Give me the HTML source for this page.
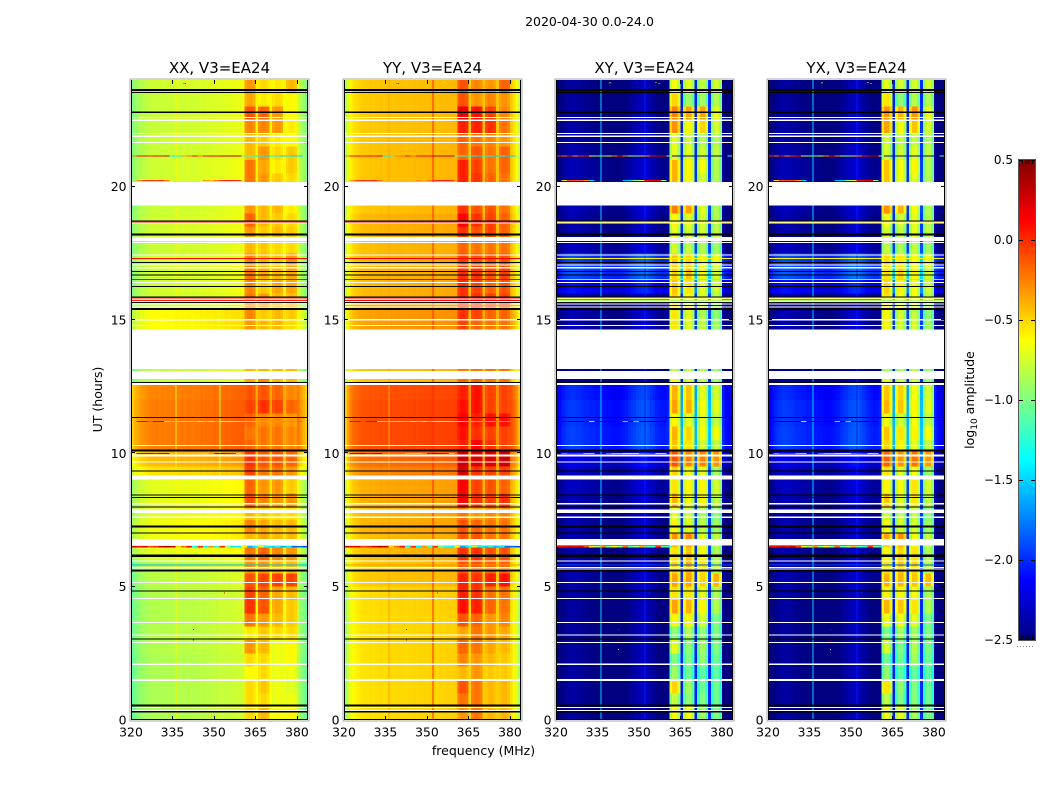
<!DOCTYPE html>
<html>
<head>
<meta charset="utf-8">
<title>2020-04-30 0.0-24.0</title>
<style>
html,body{margin:0;padding:0;background:#fff;}
svg{display:block;}
text{font-family:"DejaVu Sans","Liberation Sans",sans-serif;fill:#000;}
</style>
</head>
<body>
<svg id="chart" xmlns="http://www.w3.org/2000/svg" width="1050" height="800" viewBox="0 0 1050 800">
<rect x="0" y="0" width="1050" height="800" fill="#fff"/>
<text x="589.5" y="26" font-size="12.5" text-anchor="middle">2020-04-30 0.0-24.0</text>
<text x="0" y="0" font-size="12.5" text-anchor="middle" transform="translate(102,399.5) rotate(-90)">UT (hours)</text>
<text x="483.5" y="755" font-size="12.5" text-anchor="middle">frequency (MHz)</text>
<text x="0" y="0" font-size="12.5" text-anchor="middle" transform="translate(974,400) rotate(-90)">log<tspan font-size="9" dy="3">10</tspan><tspan dy="-3"> amplitude</tspan></text>
</svg>
<script>
// ---------- axis data ----------
const panelTitles = ['XX, V3=EA24','YY, V3=EA24','XY, V3=EA24','YX, V3=EA24'];
const panelNames = ['xx','yy','xy','yx'];
const xTicks = [320,335,350,365,380];
const yTicks = [0,5,10,15,20];
const colorbarTicks = [0.5,0,-0.5,-1,-1.5,-2,-2.5];
const colorbarLabels = ['0.5','0.0','\u22120.5','\u22121.0','\u22121.5','\u22122.0','\u22122.5'];
const freqStart = 320, freqStep = 1, channelCount = 64;
const vMin = -2.5, vMax = 0.5;

// time-row edges in hours
const timeEdges = [0,0.5,1,1.5,2,2.5,3,3.5,4,4.5,5,5.5,6,6.5,7,7.5,8,8.5,9,9.5,10.1,10.5,11,11.5,12,12.56,13,13.5,14,14.5,15,15.5,16,16.5,17,17.5,18,18.5,19,19.5,20,20.5,21,21.5,22,22.5,23,23.5,24];

// log10 amplitude of each frequency channel (non-band channels)
const xxChannels = [-1.08,-1,-.96,-.92,-.9,-.88,-.86,-.85,-.85,-.84,-.85,-.84,-.84,-.83,-.84,-.83,-.82,-.83,-.82,-.83,-.82,-.82,-.83,-.82,-.82,-.8,-.82,-.8,-.8,-.8,-.78,-.8,-.78,-.78,-.76,-.78,-.76,-.76,-.75,-.75,-.74,-.72,-.72,-.72,-.72,-.62,-.72,-.72,-.72,-.72,-.62,-.72,-.72,-.72,-.72,-.64,-.72,-.72,-.72,-.72,-.82,-.92,-1,-1.08];
const yyChannels = [-.85,-.72,-.62,-.56,-.54,-.52,-.5,-.49,-.49,-.48,-.49,-.48,-.48,-.47,-.48,-.47,-.46,-.47,-.47,-.46,-.46,-.46,-.47,-.46,-.46,-.45,-.46,-.45,-.45,-.45,-.45,-.44,-.44,-.46,-.45,-.45,-.44,-.44,-.44,-.44,-.43,-.45,-.45,-.45,-.45,-.48,-.45,-.45,-.45,-.45,-.46,-.45,-.45,-.45,-.45,-.46,-.45,-.45,-.45,-.45,-.48,-.56,-.66,-.8];
const xyChannels = [-2.5,-2.45,-2.38,-2.34,-2.32,-2.3,-2.3,-2.32,-2.32,-2.34,-2.36,-2.36,-2.38,-2.38,-2.4,-2.4,-2.42,-2.42,-2.44,-2.44,-2.46,-2.46,-2.46,-2.44,-2.42,-2.4,-2.36,-2.32,-2.3,-2.26,-2.24,-2.22,-2.2,-2.26,-2.3,-2.34,-2.38,-2.4,-2.42,-2.42,-2.38,-2,-2,-2,-2,-1.95,-2,-2,-2,-2,-1.95,-2,-2,-2,-2,-1.9,-2,-2,-2,-2,-2.36,-2.46,-2.5,-2.5];
const yxChannels = [-2.5,-2.45,-2.38,-2.34,-2.32,-2.3,-2.3,-2.32,-2.32,-2.34,-2.36,-2.36,-2.38,-2.38,-2.4,-2.4,-2.42,-2.42,-2.44,-2.44,-2.46,-2.46,-2.46,-2.44,-2.42,-2.4,-2.36,-2.32,-2.3,-2.26,-2.24,-2.22,-2.2,-2.26,-2.3,-2.34,-2.38,-2.4,-2.42,-2.42,-2.38,-2,-2,-2,-2,-1.95,-2,-2,-2,-2,-1.95,-2,-2,-2,-2,-1.9,-2,-2,-2,-2,-2.36,-2.46,-2.5,-2.5];

// per-time-row offset of the background level
const xxRowOffset = [-.02,-.02,-.02,-.02,-.02,0,0,0,0,0,.02,.02,.14,.18,.18,.14,.14,.14,.3,.42,.6,.6,.6,.6,.58,.03,.03,.03,.03,.22,.22,.08,.08,.08,.08,.06,.08,.08,.06,.06,.08,.08,.06,.06,.06,.06,.06,.08];
const yyRowOffset = [-.05,-.05,-.05,-.05,-.05,-.05,-.05,-.05,-.04,-.04,.02,.02,.05,.05,.08,.08,.1,.1,.2,.28,.38,.38,.38,.38,.36,.03,.03,.03,.03,.14,.14,.07,.07,.07,.07,.05,.07,.07,.03,.03,.03,.03,.03,.03,.02,.02,.02,.02];
const xyRowOffset = [-.1,-.1,-.1,-.1,-.1,-.1,-.1,-.1,-.1,-.08,-.05,-.05,-.05,-.05,-.05,-.05,-.02,0,.02,.14,.37,.37,.35,.35,.31,-.1,-.1,-.1,-.1,-.04,-.04,-.05,.22,.42,.4,0,-.05,-.06,-.02,-.02,-.04,-.04,-.07,-.07,-.08,-.08,-.1,-.1];
const yxRowOffset = [-.1,-.1,-.1,-.1,-.1,-.1,-.1,-.1,-.1,-.08,-.05,-.05,-.05,-.05,-.05,-.05,-.02,0,.02,.14,.37,.37,.35,.35,.31,-.1,-.1,-.1,-.1,-.04,-.04,-.05,.22,.44,.42,0,-.05,-.06,-.02,-.02,-.04,-.04,-.07,-.07,-.08,-.08,-.1,-.1];

// amplitude in the four receiver bands, one row per time row
const xxBandRows = [[-.4,-.3,-.5,-.5],[-.4,-.4,-.55,-.55],[-.4,-.35,-.55,-.6],[-.5,-.4,-.55,-.55],[-.4,-.4,-.55,-.5],[-.2,-.3,-.55,-.5],[-.45,-.35,-.4,-.4],[-.1,-.2,-.3,-.35],[.1,0,-.25,-.35],[.05,-.05,-.25,-.3],[0,.05,.05,.05],[-.2,-.2,-.3,-.3],[-.1,-.05,-.15,-.2],[-.3,-.25,-.3,-.3],[-.15,-.25,-.3,-.3],[-.3,-.35,-.4,-.4],[0,-.15,-.2,-.2],[-.05,-.2,-.2,-.35],[.05,-.1,-.1,-.2],[.1,0,0,-.05],[-.05,-.1,-.1,-.15],[-.1,-.1,-.1,-.15],[-.05,-.15,-.15,-.2],[.05,.1,.05,-.05],[0,0,-.05,-.15],[-.25,-.15,-.3,-.3],[-.3,-.3,-.3,-.3],[-.3,-.3,-.3,-.3],[-.3,-.3,-.3,-.3],[-.2,-.3,-.3,-.4],[-.15,-.35,-.3,-.35],[-.1,-.2,-.3,-.3],[-.15,-.35,-.25,-.25],[-.1,-.25,-.3,-.25],[-.15,-.3,-.35,-.2],[-.3,-.35,-.4,-.4],[-.2,-.35,-.3,-.35],[-.05,-.3,-.35,-.4],[-.2,-.3,-.3,-.45],[-.2,-.3,-.3,-.45],[-.1,-.2,-.35,-.4],[-.1,-.25,-.45,-.35],[-.3,-.2,-.4,-.35],[-.3,-.35,-.45,-.5],[-.15,-.15,-.2,-.45],[0,-.05,-.2,-.5],[-.25,-.45,-.4,-.5],[-.2,-.4,-.45,-.3]];
const yyBandRows = [[-.2,-.1,-.3,-.3],[-.1,-.1,-.3,-.3],[0,-.1,-.3,-.3],[-.3,-.2,-.35,-.35],[-.15,-.2,-.3,-.35],[-.05,-.1,-.25,-.3],[-.25,-.1,-.2,-.25],[0,-.05,-.2,-.15],[.2,.15,-.05,-.1],[.15,.1,-.1,-.1],[.15,.1,.15,.2],[0,0,-.05,-.05],[.1,.1,0,0],[0,0,-.1,-.1],[0,-.05,-.1,-.1],[-.1,-.2,-.15,-.15],[.25,.1,.05,.1],[.25,.05,0,-.05],[.35,.1,.05,.05],[.4,.35,.35,.4],[.15,.25,.1,.05],[.2,.1,.05,.05],[.25,.15,.2,.2],[.2,.2,.05,.05],[.15,.2,.05,.05],[-.05,-.05,-.1,-.1],[-.1,-.1,-.1,-.1],[-.1,-.1,-.1,-.1],[-.1,-.1,-.1,-.1],[.05,-.05,-.1,-.1],[.1,.05,-.05,-.05],[.1,.1,.05,.05],[.1,.05,-.05,0],[.1,.1,0,.05],[.05,0,0,0],[-.05,-.1,-.1,-.1],[.1,0,.05,-.05],[.25,.1,.05,-.05],[.1,0,0,-.1],[.1,0,0,-.1],[.15,.1,-.05,-.1],[.15,.05,-.1,-.05],[-.05,0,-.1,-.05],[-.05,-.1,-.15,-.2],[.15,.15,.1,-.1],[.3,.2,.05,-.15],[0,-.2,-.15,-.2],[0,-.15,-.2,-.05]];
const xyBandRows = [[-.65,-.65,-.9,-1],[-.8,-.95,-1,-1.05],[-.5,-.9,-1.05,-1.05],[-.9,-1.05,-1.1,-1.1],[-1,-1,-.95,-1.05],[-.7,-.95,-.9,-1],[-.95,-.85,-.95,-1],[-.6,-.6,-.75,-1],[-.35,-.4,-.6,-.85],[-.55,-.55,-.7,-.85],[-.35,-.35,-.5,-.4],[-.5,-.4,-.55,-.8],[-.55,-.45,-.6,-.85],[-.3,-.25,-.7,-.8],[-.6,-.7,-.8,-.9],[-.7,-.75,-.85,-.95],[-.4,-.65,-.6,-.8],[-.55,-.6,-.6,-.75],[-.5,-.65,-.7,-.9],[-.1,-.25,-.25,-.3],[-.45,-.55,-.75,-.8],[-.4,-.5,-.65,-.65],[-.6,-.7,-.7,-.8],[-.35,-.4,-.65,-.7],[-.4,-.45,-.7,-.75],[-.6,-.7,-.8,-.9],[-.8,-.8,-.85,-.9],[-.8,-.8,-.85,-.9],[-.8,-.8,-.85,-.9],[-.55,-.7,-.8,-.9],[-.55,-.7,-.85,-.95],[-.5,-.6,-.7,-.85],[-.45,-.55,-.7,-.75],[-.5,-.45,-.65,-.75],[-.45,-.5,-.7,-.7],[-.75,-.8,-.85,-.9],[-.7,-.75,-.75,-.8],[-.6,-.7,-.75,-.85],[-.25,-.35,-.7,-.85],[-.25,-.35,-.7,-.85],[-.4,-.6,-.75,-.85],[-.4,-.6,-.65,-.85],[-.7,-.7,-.75,-.8],[-.7,-.75,-.85,-.85],[-.3,-.6,-.5,-.75],[-.25,-.35,-.35,-.7],[-.5,-.9,-.9,-.85],[-.65,-.7,-.8,-.75]];
const yxBandRows = [[-.68,-.7,-.88,-1],[-.82,-1,-.98,-1.05],[-.55,-.95,-1,-1.05],[-.95,-1.1,-1.08,-1.1],[-1.05,-1.05,-.9,-1.05],[-.75,-1,-.85,-1],[-1,-.9,-.9,-1],[-.65,-.65,-.7,-1],[-.4,-.45,-.55,-.85],[-.6,-.6,-.65,-.85],[-.4,-.4,-.45,-.42],[-.55,-.45,-.5,-.8],[-.6,-.5,-.55,-.85],[-.35,-.3,-.65,-.8],[-.65,-.75,-.75,-.9],[-.75,-.8,-.8,-.95],[-.45,-.7,-.55,-.8],[-.6,-.65,-.55,-.75],[-.55,-.7,-.65,-.9],[-.15,-.3,-.2,-.32],[-.5,-.6,-.7,-.8],[-.45,-.55,-.6,-.65],[-.65,-.75,-.65,-.8],[-.4,-.45,-.6,-.7],[-.45,-.5,-.65,-.75],[-.65,-.75,-.75,-.9],[-.85,-.85,-.8,-.9],[-.85,-.85,-.8,-.9],[-.85,-.85,-.8,-.9],[-.6,-.75,-.75,-.9],[-.6,-.75,-.8,-.95],[-.55,-.65,-.65,-.85],[-.5,-.6,-.65,-.75],[-.55,-.5,-.6,-.75],[-.5,-.55,-.65,-.7],[-.8,-.85,-.8,-.9],[-.75,-.8,-.7,-.8],[-.65,-.75,-.7,-.85],[-.3,-.4,-.65,-.85],[-.3,-.4,-.65,-.85],[-.45,-.65,-.7,-.85],[-.45,-.65,-.6,-.85],[-.75,-.75,-.7,-.8],[-.75,-.8,-.8,-.85],[-.35,-.65,-.45,-.75],[-.3,-.4,-.3,-.7],[-.55,-.95,-.85,-.85],[-.7,-.75,-.75,-.75]];

// first channel of each band and relative level across its four channels
const bandFirstChannels = [41,46,51,56];
const xxBandShape = [-.15,-.11,-.11,-.15];
const yyBandShape = [-.15,-.11,-.11,-.15];
const xyBandShape = [-.2,0,0,-.2];
const yxBandShape = [-.2,0,0,-.2];

// channels between the bands follow a fraction of the background row level
const betweenBandChannels = [45,50,55];
const betweenBandScale = [.45,.45,1,1];

// narrow interference lines at fixed frequency: MHz and level in each panel
const spikeFreqs = [336,352];
const spikeXX = [-.6,-.72];
const spikeYY = [-.36,.0];
const spikeXY = [-1.5,-2.05];
const spikeYX = [-1.5,-2.05];

// isolated hot pixels: MHz, hour, level
const speckleFreqs = [342.4,342.4,353.7,353.7,342.4,339,339.3,339.6,356,357,338];
const speckleHours = [3.0,3.4,4.76,4.55,2.65,23.86,23.9,23.86,23.9,23.86,0.55];
const speckleLevels = [.3,.3,.2,-.4,-1.2,.2,-.6,.2,-.6,-.8,-.5];

// broadband interference rows; each value spans two channels, null means no excess
const rfiHours = [21.15,20.24,11.2,10.0,6.5];
const rfiRow2115 = [-.2,.1,.15,.05,.15,.1,.25,-1.4,-1.3,-.3,-.2,.1,-.2,.1,.15,.1,.3,.3,.3,.3,-1.2,-1.2,-1.4,-1.4,-1.5,-1.4,-1.4,-1.5,-1.4,-1.5,-1.5,-.9];
const rfiRow2020 = [null,-.3,-.05,0,-.05,0,-.2,null,null,null,null,null,null,-.3,-.4,-.2,0,.05,.05,0,null,null,null,null,null,null,null,null,null,null,null,null];
const rfiRow1120 = [null,.1,.15,-.1,.15,.2,-.5,-.4,-1.2,-1,-1.1,-1.3,-.6,-1.2,-.7,-.4,-.6,-.7,-.6,-.8,-1.1,-1.2,-1.3,-1.4,-1.4,-1.5,-1.4,-1.5,-1.5,-1.5,-1.6,null];
const rfiRow1000 = [null,.3,.3,.3,.1,.3,.3,null,null,null,null,-1.3,-1.2,-.5,-.3,.2,.3,.2,.1,-.9,null,null,null,null,null,null,null,null,null,null,null,null];
const rfiRow650 = [.3,.1,.2,-.1,0,.2,.4,.3,-.5,-.2,.1,-1.3,0,-1.4,-.3,-1.2,0,-1,-1.3,-1.4,-.6,-1.6,-1.4,-.8,-1.3,-1.5,-1.3,-1.6,-1.4,-1.8,-1.8,-1.9];
const rfiRows = [rfiRow2115,rfiRow2020,rfiRow1120,rfiRow1000,rfiRow650];

// the same rows as seen in the cross-hand panels
const crossRow2115 = [0,-.2,.1,-.3,0,.1,-.7,-.9,-1,-.7,-.3,.1,-.3,-.8,-.9,-.5,-.3,.1,.3,.3,-.9,-2.5,-2.5,-2.5,-2.5,-2.5,-2.5,-2.5,-2.5,-2.5,null,-1.2];
const crossRow2020 = [null,-.5,-.1,-.1,-.1,-.3,-1.5,null,null,null,null,null,-1.6,-1.5,-.9,-.7,.1,.2,.2,-1,null,null,null,null,null,null,null,null,null,null,null,null];
const crossRow1120 = [null,-2.45,-2.45,-2.45,-2.45,-2.45,-1,-2.45,-2.45,-2.45,-2.45,-2.45,-1.4,-2.45,-1.4,-2.45,-2.45,-2.45,-2.45,-2.45,null,null,null,null,null,null,null,null,null,null,null,null];
const crossRow1000 = [null,-.2,.1,.1,.1,-.4,-1.2,null,null,-1.7,-1.4,-1.4,-.6,-.6,-.7,-.1,0,.1,-.8,-1,null,null,null,null,null,null,null,null,null,null,null,null];
const crossRow650 = [.1,.1,.2,.1,.2,-.1,-.6,-.9,-.3,-1,-.6,-1,-.2,-1.1,-.9,-.4,-1.1,-1.2,0,-1.1,-1.2,null,null,null,null,null,null,null,null,null,null,null];
const crossRows = [crossRow2115,crossRow2020,crossRow1120,crossRow1000,crossRow650];

// full-width rows at a single level per panel: hour, XX, YY, XY, YX
const hotHours = [15.82,15.74,16.52,17.3,18.67,5.82,15.55];
const hotXX = [.05,.05,.1,.1,.05,-1.6,-.75];
const hotYY = [.15,.15,.15,.15,.15,-.3,-.4];
const hotXY = [-.6,-.9,-.5,-.6,-.6,-1.9,-2.3];
const hotYX = [-.6,-.9,-.5,-.6,-.6,-1.9,-2.3];

// missing-data spans (white), in hours
const gapStarts = [.35,.45,1.46,2.07,2.89,3.16,3.64,4.54,5.14,5.63,5.69,5.95,6.55,7.58,7.77,8.09,9.01,9.66,9.89,10.28,12.56,12.79,13.16,14.78,14.99,15.46,15.58,15.68,15.76,16.38,16.94,17.04,17.41,17.88,17.96,18.61,19.29,21.64,21.87,21.97,22.47,22.57];
const gapEnds =   [.38,.48,1.54,2.11,2.93,3.2,3.68,4.58,5.18,5.67,5.73,5.99,6.78,7.63,7.9,8.13,9.16,9.69,9.96,10.32,12.63,13.09,14.65,14.82,15.03,15.5,15.62,15.72,15.8,16.42,16.98,17.08,17.45,17.92,18.12,18.65,20.18,21.68,21.91,22.01,22.51,22.61];

// flagged spans (black), in hours
const flagStarts = [.29,.5,3.01,4.81,5.56,6.12,7,7.21,7.96,8.33,8.41,9.31,10.06,11.33,12.64,15.37,15.64,15.85,16.24,16.66,16.8,17.14,18.16,18.7,22.77,23.51,23.59];
const flagEnds =   [.33,.58,3.05,4.85,5.64,6.2,7.04,7.29,8,8.37,8.45,9.35,10.14,11.37,12.68,15.45,15.68,15.89,16.28,16.7,16.84,17.18,18.24,18.74,22.81,23.55,23.66];

// ---------- layout ----------
const panelLeft = [131,344,556,768];
const panelWidth = 177, plotTop = 80, plotBottom = 720;
const barLeft = 1019, barWidth = 16, barTop = 160, barBottom = 640;

const panelChannels = [xxChannels,yyChannels,xyChannels,yxChannels];
const panelOffsets = [xxRowOffset,yyRowOffset,xyRowOffset,yxRowOffset];
const panelBands = [xxBandRows,yyBandRows,xyBandRows,yxBandRows];
const panelShapes = [xxBandShape,yyBandShape,xyBandShape,yxBandShape];
const panelSpikes = [spikeXX,spikeYY,spikeXY,spikeYX];
const panelHots = [hotXX,hotYY,hotXY,hotYX];
const panelRfi = [rfiRows,rfiRows,crossRows,crossRows];

const NS = 'http://www.w3.org/2000/svg';
const svg = document.getElementById('chart');

function xScale(p, mhz){ return panelLeft[p] + (mhz - freqStart) * panelWidth / (channelCount * freqStep); }
function yScale(h){ return plotBottom - h * (plotBottom - plotTop) / 24; }
function barScale(v){ return barBottom - (v - vMin) * (barBottom - barTop) / (vMax - vMin); }

function jet(v){
  let t = (v - vMin) / (vMax - vMin);
  t = Math.max(0, Math.min(1, t));
  const r = Math.max(0, Math.min(1, 1.5 - Math.abs(4 * t - 3)));
  const g = Math.max(0, Math.min(1, 1.5 - Math.abs(4 * t - 2)));
  const b = Math.max(0, Math.min(1, 1.5 - Math.abs(4 * t - 1)));
  return 'rgb(' + Math.round(r * 255) + ',' + Math.round(g * 255) + ',' + Math.round(b * 255) + ')';
}

function makeRect(parent, x, y, w, h, fill){
  const r = document.createElementNS(NS, 'rect');
  r.setAttribute('x', x.toFixed(2));
  r.setAttribute('y', y.toFixed(2));
  r.setAttribute('width', w.toFixed(2));
  r.setAttribute('height', h.toFixed(2));
  r.setAttribute('fill', fill);
  parent.appendChild(r);
  return r;
}

function makeLine(parent, x1, y1, x2, y2, stroke){
  const l = document.createElementNS(NS, 'line');
  l.setAttribute('x1', x1);
  l.setAttribute('y1', y1);
  l.setAttribute('x2', x2);
  l.setAttribute('y2', y2);
  l.setAttribute('stroke', stroke);
  l.setAttribute('stroke-width', 1);
  parent.appendChild(l);
  return l;
}

function makeText(parent, x, y, anchor, size, content){
  const t = document.createElementNS(NS, 'text');
  t.setAttribute('x', x);
  t.setAttribute('y', y);
  t.setAttribute('text-anchor', anchor);
  t.setAttribute('font-size', size);
  t.textContent = content;
  parent.appendChild(t);
  return t;
}

function bandIndex(ch){
  for (let b = 0; b < bandFirstChannels.length; b++) {
    const k = ch - bandFirstChannels[b];
    if (k >= 0 && k < 4) return [b, k];
  }
  return null;
}

function hourSpanRect(p, parent, start, end, fill){
  const yTop = yScale(end), yBot = yScale(start);
  return makeRect(parent, panelLeft[p], yTop, panelWidth, Math.max(1, yBot - yTop), fill);
}

for (let p = 0; p < 4; p++) {
  const g = document.createElementNS(NS, 'g');
  
  
  g.setAttribute('shape-rendering', 'crispEdges');
  svg.appendChild(g);

  // heatmap cells
  for (let row = 0; row < timeEdges.length - 1; row++) {
    const yTop = yScale(timeEdges[row + 1]);
    const yBot = yScale(timeEdges[row]);
    for (let ch = 0; ch < channelCount; ch++) {
      const band = bandIndex(ch);
      let v;
      if (band) {
        v = panelBands[p][row][band[0]] + panelShapes[p][band[1]];
      } else if (betweenBandChannels.indexOf(ch) >= 0) {
        v = panelChannels[p][ch] + panelOffsets[p][row] * betweenBandScale[p];
      } else {
        v = panelChannels[p][ch] + panelOffsets[p][row];
      }
      const mhz = freqStart + ch * freqStep;
      const x0 = xScale(p, mhz);
      const x1 = xScale(p, mhz + freqStep);
      const cell = makeRect(g, x0, yTop, x1 - x0, yBot - yTop, jet(v));
      
      
    }
  }

  // vertical interference lines
  spikeFreqs.forEach(function(f, i){
    const s = makeRect(g, xScale(p, f), plotTop, 1, plotBottom - plotTop, jet(panelSpikes[p][i]));
    
    
  });

  // broadband interference rows
  rfiHours.forEach(function(h, i){
    panelRfi[p][i].forEach(function(v, c){
      if (v === null) return;
      const x0 = xScale(p, freqStart + c * 2);
      const x1 = xScale(p, freqStart + (c + 1) * 2);
      const r = makeRect(g, x0, yScale(h) - 0.5, x1 - x0, 1.2, jet(v));
      
      
    });
  });

  // full-width rows
  hotHours.forEach(function(h, i){
    const r = makeRect(g, panelLeft[p], yScale(h) - 0.5, panelWidth, 1, jet(panelHots[p][i]));
    
    
  });

  // hot pixels
  speckleFreqs.forEach(function(f, i){
    const d = makeRect(g, xScale(p, f), yScale(speckleHours[i]) - 0.5, 1, 1, jet(speckleLevels[i]));
    
    
  });

  // white gaps
  gapStarts.forEach(function(s, i){
    const r = hourSpanRect(p, g, s, gapEnds[i], '#fff');
    
    
  });

  // black flagged rows
  flagStarts.forEach(function(s, i){
    const r = hourSpanRect(p, g, s, flagEnds[i], '#000');
    
    
  });

  // ticks and labels
  xTicks.forEach(function(t){
    const x = Math.round(xScale(p, t)) + 0.5;
    const a = makeLine(g, x, plotBottom, x, plotBottom - 4, '#000');
    
    
    const b = makeLine(g, x, plotTop, x, plotTop + 4, '#000');
    
    
    const lbl = makeText(svg, xScale(p, t), 736.5, 'middle', 12.4, String(t));
    
    
  });
  yTicks.forEach(function(t){
    const y = Math.round(yScale(t)) - 0.5;
    const a = makeLine(g, panelLeft[p], y, panelLeft[p] + 4, y, '#000');
    
    
    const b = makeLine(g, panelLeft[p] + panelWidth, y, panelLeft[p] + panelWidth - 4, y, '#000');
    
    
    const lbl = makeText(svg, panelLeft[p] - 4.5, yScale(t) + 4.5, 'end', 12.4, String(t));
    
    
  });

  // frame
  const left = panelLeft[p], right = panelLeft[p] + panelWidth;
  const outer = makeRect(g, left - 1, plotTop - 1, panelWidth + 2, plotBottom - plotTop + 2, 'none');
  outer.setAttribute('stroke', '#aaa');
  outer.setAttribute('stroke-width', '1');
  
  
  const sl = makeLine(g, left + 0.5, plotTop, left + 0.5, plotBottom, '#000');
  
  
  const sr = makeLine(g, right - 0.5, plotTop, right - 0.5, plotBottom, '#000');
  
  
  const sb = makeLine(g, left, plotBottom - 0.5, right, plotBottom - 0.5, '#000');
  
  

  const title = makeText(svg, left + panelWidth / 2, 73, 'middle', 15, panelTitles[p]);
  
  
}

// ---------- colorbar ----------
const bar = document.createElementNS(NS, 'g');


bar.setAttribute('shape-rendering', 'crispEdges');
svg.appendChild(bar);
for (let i = 0; i < 240; i++) {
  const v0 = vMin + (vMax - vMin) * i / 240;
  const v1 = vMin + (vMax - vMin) * (i + 1) / 240;
  const s = makeRect(bar, barLeft, barScale(v1), barWidth, barScale(v0) - barScale(v1), jet((v0 + v1) / 2));
  
  
}
colorbarTicks.forEach(function(v, i){
  const y = Math.min(barBottom - 1, Math.round(barScale(v))) + 0.5;
  const a = makeLine(bar, barLeft, y, barLeft + 4, y, '#000');
  
  
  const b = makeLine(bar, barLeft + barWidth - 4, y, barLeft + barWidth, y, '#000');
  
  
  const lbl = makeText(svg, barLeft - 6, barScale(v) + 4, 'end', 12, colorbarLabels[i]);
  
  
});
for (let i = 1; i < 5; i++) {
  const x = barLeft + i * barWidth / 5 + 0.5;
  const top = makeLine(bar, x, barTop, x, barTop + 4, '#000');
  
  
  const bottom = makeLine(bar, x, barBottom, x, barBottom - 4, '#000');
  
  
}
const barFrame = makeRect(bar, barLeft - 0.5, barTop - 0.5, barWidth + 1, barBottom - barTop + 1, 'none');
barFrame.setAttribute('stroke', '#555');
barFrame.setAttribute('stroke-width', '1');


const barDots = makeLine(svg, 1017, 646.5, 1035, 646.5, '#888');
barDots.setAttribute('stroke-dasharray', '1 2');


</script>
</body>
</html>
